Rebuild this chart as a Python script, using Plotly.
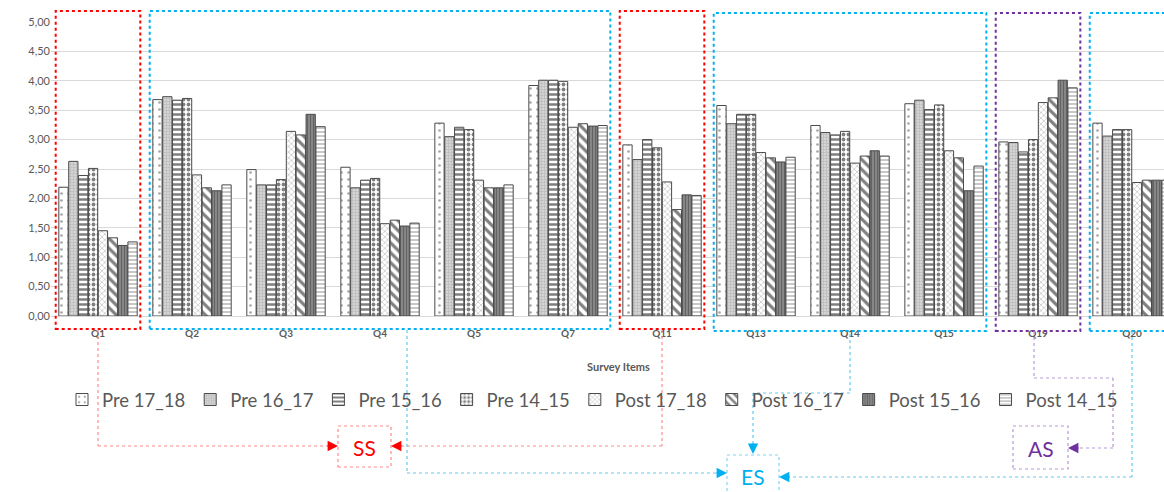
import plotly.graph_objects as go

categories = ["Q1", "Q2", "Q3", "Q4", "Q5", "Q7", "Q11", "Q13", "Q14", "Q15", "Q19", "Q20"]
series_names = ["Pre 17_18", "Pre 16_17", "Pre 15_16", "Pre 14_15",
                "Post 17_18", "Post 16_17", "Post 15_16", "Post 14_15"]

pre_17_18 = [2.19, 3.68, 2.49, 2.53, 3.28, 3.92, 2.91, 3.58, 3.24, 3.61, 2.96, 3.28]
pre_16_17 = [2.63, 3.73, 2.23, 2.18, 3.05, 4.01, 2.66, 3.27, 3.12, 3.67, 2.95, 3.06]
pre_15_16 = [2.39, 3.67, 2.23, 2.31, 3.21, 4.01, 3.00, 3.43, 3.08, 3.51, 2.79, 3.17]
pre_14_15 = [2.51, 3.70, 2.32, 2.34, 3.17, 3.99, 2.86, 3.43, 3.14, 3.59, 3.00, 3.17]
post_17_18 = [1.45, 2.40, 3.14, 1.57, 2.31, 3.21, 2.28, 2.78, 2.60, 2.81, 3.63, 2.27]
post_16_17 = [1.33, 2.18, 3.08, 1.63, 2.18, 3.27, 1.81, 2.69, 2.72, 2.69, 3.71, 2.31]
post_15_16 = [1.20, 2.13, 3.43, 1.53, 2.18, 3.23, 2.06, 2.62, 2.81, 2.13, 4.01, 2.31]
post_14_15 = [1.26, 2.23, 3.22, 1.58, 2.23, 3.24, 2.05, 2.70, 2.72, 2.55, 3.88, 2.31]

series_values = [pre_17_18, pre_16_17, pre_15_16, pre_14_15,
                 post_17_18, post_16_17, post_15_16, post_14_15]

y_ticks = [0, 0.5, 1, 1.5, 2, 2.5, 3, 3.5, 4, 4.5, 5]

# pattern styles (bg, fg, shape, size, solidity)
styles = [
    ("white", "#505050", ".", 7, 0.12),
    ("#d4d4d4", "#9a9a9a", "+", 3, 0.35),
    ("white", "black", "-", 5, 0.5),
    ("white", "black", ".", 5, 0.45),
    ("white", "#7a7a7a", "x", 4, 0.3),
    ("white", "black", "\\", 7, 0.45),
    ("#8a8a8a", "#3c3c3c", "|", 3, 0.4),
    ("white", "#606060", "-", 4, 0.35),
]

W, H = 1164, 492
ML, MR, MT, MB = 51, 0, 22, 176
PW, PH = W - ML - MR, H - MT - MB
X0, X1 = -0.5, 11.34


def fx(px):
    return (px - ML) / PW


def fy(py):
    return (H - MB - py) / PH


def cat_px(i):
    return ML + (i - X0) / (X1 - X0) * PW


FONT = "Lato"
fig = go.Figure()
for name, vals, st in zip(series_names, series_values, styles):
    bg, fg, shape, size, sol = st
    fig.add_trace(go.Bar(
        x=categories, y=vals, name=name,
        marker=dict(color=bg, line=dict(color="#4a4a4a", width=1),
                    pattern=dict(shape=shape, fgcolor=fg, bgcolor=bg,
                                 size=size, solidity=sol, fillmode="overlay")),
    ))

shapes = []
annotations = []

# group boxes around categories
boxes = [(0, 0, "#ff0000", 11, 329), (1, 5, "#00b0f0", 11, 329), (6, 6, "#ff0000", 11, 329),
         (7, 9, "#00b0f0", 13, 331), (10, 10, "#7030a0", 13, 331), (11, 12, "#00b0f0", 13, 331)]
for i, j, col, top, bot in boxes:
    shapes.append(dict(type="rect", xref="paper", yref="paper",
                       x0=fx(cat_px(i - 0.45)), x1=fx(cat_px(j + 0.45)),
                       y0=fy(bot), y1=fy(top), line=dict(color=col, width=2, dash="dot"),
                       layer="above"))

# bottom labelled boxes
lab_boxes = [("SS", 338, 391, 426, 467, "#ff0000", "#ff8a8a"),
             ("ES", 727, 779, 455, 510, "#00b0f0", "#7fd4f5"),
             ("AS", 1013, 1068, 426, 469, "#7030a0", "#b89ad6")]
text_y = {"SS": 447, "ES": 476, "AS": 448}
for txt, a, b, t, bt, col, lcol in lab_boxes:
    shapes.append(dict(type="rect", xref="paper", yref="paper", x0=fx(a), x1=fx(b),
                       y0=fy(bt), y1=fy(t), line=dict(color=lcol, width=1.2, dash="dot")))
    annotations.append(dict(xref="paper", yref="paper", x=fx((a + b) / 2), y=fy(text_y[txt]),
                            xanchor="center", yanchor="middle",
                            text=txt, showarrow=False,
                            font=dict(family=FONT, size=21, color=col)))


def path(points, col):
    for (xa, ya), (xb, yb) in zip(points[:-1], points[1:]):
        shapes.append(dict(type="line", xref="paper", yref="paper",
                           x0=fx(xa), y0=fy(ya), x1=fx(xb), y1=fy(yb),
                           line=dict(color=col, width=1.2, dash="dot")))


def arrow(x, y, dx, dy, col):
    annotations.append(dict(xref="paper", yref="paper", x=fx(x), y=fy(y),
                            ax=dx, ay=dy, text="", showarrow=True, arrowhead=2,
                            arrowsize=1.6, arrowwidth=1.3, arrowcolor=col, standoff=0))


red, blue, purple = "#ff8a8a", "#66c8f0", "#b89ad6"
q1 = cat_px(0); q11 = cat_px(6); q14 = cat_px(8); q19 = cat_px(10); q20 = cat_px(11)
path([(q1, 330), (q1, 446), (336, 446)], red)
arrow(338, 446, -12, 0, "#ff0000")
path([(q11, 330), (q11, 446), (393, 446)], red)
arrow(391, 446, 12, 0, "#ff0000")
path([(407, 330), (407, 473), (725, 473)], blue)
arrow(727, 473, -12, 0, "#00b0f0")
path([(q14, 334), (q14, 393), (753, 393), (753, 452)], blue)
arrow(753, 454, 0, -12, "#00b0f0")
path([(q20, 331), (q20, 477), (781, 477)], blue)
arrow(779, 477, 12, 0, "#00b0f0")
path([(q19 - 4, 331), (q19 - 4, 378), (1113, 378), (1113, 448), (1070, 448)], purple)
arrow(1068, 448, 12, 0, "#7030a0")

annotations.append(dict(xref="paper", yref="paper", x=fx(618), y=fy(366),
                        xanchor="center", yanchor="middle",
                        text="<b>Survey Items</b>", showarrow=False,
                        font=dict(family=FONT, size=11, color="#595959")))

fig.update_layout(
    width=W, height=H,
    margin=dict(l=ML, r=MR, t=MT, b=MB, autoexpand=False),
    paper_bgcolor="white", plot_bgcolor="white",
    separators=",.",
    barmode="group", bargap=0.16, bargroupgap=0.06,
    font=dict(family=FONT, color="#595959"),
    xaxis=dict(range=[X0, X1], tickfont=dict(size=10, color="#595959", weight="bold"),
               ticks="", showline=True, linecolor="#d9d9d9", ticklabelstandoff=8,
               automargin=False),
    yaxis=dict(range=[0, 5], tickvals=y_ticks, tickformat=".2f",
               tickfont=dict(size=11, color="#595959"), gridcolor="#d9d9d9",
               zeroline=False, showline=False, automargin=False),
    legend=dict(orientation="h", xref="container", yref="container",
                x=62 / W, xanchor="left", y=1 - 400 / H, yanchor="middle",
                font=dict(size=18.5, color="#595959", family=FONT),
                bgcolor="rgba(0,0,0,0)", traceorder="normal"),
    shapes=shapes, annotations=annotations,
)

fig.write_html("out.html", config={"displayModeBar": False},
               post_script="document.body.style.margin='0';")
